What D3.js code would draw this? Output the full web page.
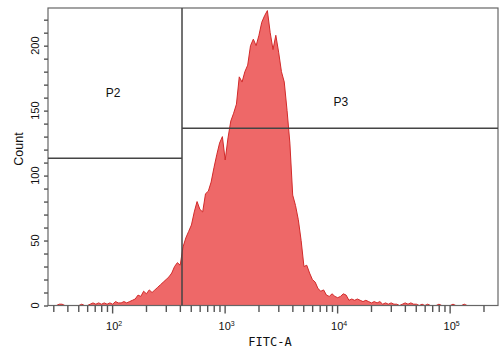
<!DOCTYPE html>
<html>
<head>
<meta charset="utf-8">
<script src="https://cdn.jsdelivr.net/npm/d3@7/dist/d3.min.js"></script>
<style>
  body { margin: 0; background: #fff; }
  svg { display: block; }
  .axis path, .axis line { stroke: #555; stroke-width: 1.4; }
  .axis text { font-family: Arial, "Liberation Sans", sans-serif; fill: #111; }
</style>
</head>
<body>
<div id="chart"></div>
<script>
// histogram channels: log10 of first channel and channel width (log units)
const logStart = 1.43;
const logStep = 0.025;
// counts per channel
const counts = [
  0, 0, 0, 0, 1, 1, 0, 0, 0, 0,
  0, 0, 1, 0, 0, 1, 2, 1, 2, 1,
  2, 1, 2, 1, 3, 2, 2, 3, 2, 3,
  4, 5, 8, 7, 11, 9, 12, 10, 12, 14,
  16, 18, 20, 22, 25, 30, 33, 31, 45, 52,
  57, 62, 72, 80, 74, 72, 86, 88, 95, 106,
  116, 125, 130, 112, 129, 142, 148, 155, 176, 172,
  180, 185, 200, 205, 200, 208, 218, 223, 227, 210,
  197, 208, 195, 180, 172, 150, 125, 85, 77, 66,
  50, 30, 31, 25, 20, 18, 13, 11, 12, 8,
  7, 9, 7, 6, 7, 9, 8, 4, 5, 4,
  5, 4, 3, 4, 3, 2, 3, 2, 3, 1,
  2, 1, 2, 1, 1, 0, 1, 2, 1, 2,
  1, 1, 0, 1, 0, 1, 0, 0, 0, 1,
  0, 0, 0, 0, 1, 0, 0, 0, 1, 0,
  0, 0, 0, 0, 0, 0, 0, 0, 0, 0
];
const xDomain = [Math.pow(10, 1.43), Math.pow(10, 5.43)];
const yDomain = [0, 229];
const yTicks = d3.range(0, 221, 10);
const yLabels = [0, 50, 100, 150, 200];
const xMajor = [100, 1000, 10000, 100000];
const xMajorLabels = [['10', '2'], ['10', '3'], ['10', '4'], ['10', '5']];
// gates: P2 = left of gateX, P3 = right of gateX
const gateX = 418;
const gateNames = ['P2', 'P3'];
const gateLevels = [113.3, 136.4];
const gateLabelPos = [[102, 164], [10800, 157]]; // [FITC-A value, count]

const width = 504, height = 349;
const margin = { left: 48, right: 6, top: 8, bottom: 43.5 };

const svg = d3.select('#chart').append('svg')
  .attr('width', width)
  .attr('height', height);

const x = d3.scaleLog().domain(xDomain).range([margin.left, width - margin.right]);
const y = d3.scaleLinear().domain(yDomain).range([height - margin.bottom, margin.top]);

const data = counts.map((c, i) => ({ v: Math.pow(10, logStart + logStep * i), c: c }));

// histogram
const area = d3.area()
  .x(d => x(d.v))
  .y0(y(0))
  .y1(d => y(d.c));
const line = d3.line()
  .x(d => x(d.v))
  .y(d => y(d.c));

svg.append('path')
  .datum(data)
  .attr('d', area)
  .attr('fill', '#ee6868');
svg.append('path')
  .datum(data)
  .attr('d', line)
  .attr('fill', 'none')
  .attr('stroke', '#d22a2a')
  .attr('stroke-width', 1);

// frame
svg.append('rect')
  .attr('x', x.range()[0])
  .attr('y', y.range()[1])
  .attr('width', x.range()[1] - x.range()[0])
  .attr('height', y.range()[0] - y.range()[1])
  .attr('fill', 'none')
  .attr('stroke', '#666')
  .attr('stroke-width', 1.2);

// gates
const gx = x(gateX);
svg.append('line')
  .attr('x1', gx).attr('x2', gx)
  .attr('y1', y.range()[1]).attr('y2', y(0))
  .attr('stroke', '#444').attr('stroke-width', 1.5);
svg.append('line')
  .attr('x1', x.range()[0]).attr('x2', gx)
  .attr('y1', y(gateLevels[0])).attr('y2', y(gateLevels[0]))
  .attr('stroke', '#444').attr('stroke-width', 1.5);
svg.append('line')
  .attr('x1', gx).attr('x2', x.range()[1])
  .attr('y1', y(gateLevels[1])).attr('y2', y(gateLevels[1]))
  .attr('stroke', '#444').attr('stroke-width', 1.5);
gateNames.forEach((n, i) => {
  svg.append('text')
    .attr('x', x(gateLabelPos[i][0]))
    .attr('y', y(gateLabelPos[i][1]))
    .attr('dy', '0.35em')
    .attr('text-anchor', 'middle')
    .attr('font-family', 'Arial, "Liberation Sans", sans-serif')
    .attr('font-size', 12)
    .attr('fill', '#111')
    .text(n);
});

// x axis
const xAxis = svg.append('g')
  .attr('class', 'axis')
  .attr('transform', 'translate(0,' + y(0) + ')')
  .call(d3.axisBottom(x).tickValues(x.ticks()).tickSizeOuter(0).tickFormat(''));
xAxis.select('.domain').remove();
xAxis.selectAll('.tick line')
  .attr('y2', d => xMajor.includes(d) ? 8 : 6.5);
xMajor.forEach((v, i) => {
  const t = xAxis.append('text')
    .attr('x', x(v) + 2)
    .attr('y', 24)
    .attr('text-anchor', 'middle')
    .attr('font-size', 11);
  t.append('tspan').text(xMajorLabels[i][0]);
  t.append('tspan').attr('font-size', 7).attr('dy', -4).text(xMajorLabels[i][1]);
});
svg.append('text')
  .attr('x', 270)
  .attr('y', 346)
  .attr('text-anchor', 'middle')
  .attr('font-family', '"DejaVu Sans Mono", monospace')
  .attr('font-size', 12)
  .attr('fill', '#111')
  .text('FITC-A');

// y axis
const yAxis = svg.append('g')
  .attr('class', 'axis')
  .attr('transform', 'translate(' + x.range()[0] + ',0)')
  .call(d3.axisLeft(y).tickValues(yTicks).tickSize(4).tickSizeOuter(0).tickFormat(''));
yAxis.select('.domain').remove();
yLabels.forEach(v => {
  yAxis.append('text')
    .attr('transform', 'translate(-9,' + y(v) + ') rotate(-90)')
    .attr('text-anchor', 'middle')
    .attr('font-size', 11)
    .text(v);
});
svg.append('text')
  .attr('transform', 'translate(23,149) rotate(-90)')
  .attr('text-anchor', 'middle')
  .attr('font-family', 'Arial, "Liberation Sans", sans-serif')
  .attr('font-size', 12.5)
  .attr('fill', '#111')
  .text('Count');
</script>
</body>
</html>
